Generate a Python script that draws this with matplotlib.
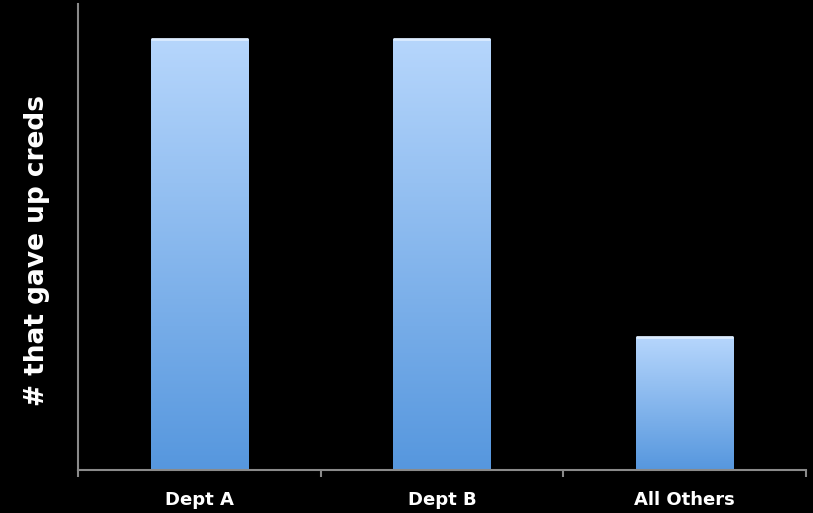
import numpy as np
import matplotlib
matplotlib.use("Agg")
import matplotlib.pyplot as plt
from matplotlib.colors import LinearSegmentedColormap

categories = ["Dept A", "Dept B", "All Others"]
values = [13, 13, 4]

fig = plt.figure(figsize=(8.13, 5.13), dpi=100, facecolor="black")
ax = fig.add_axes([0.096, 0.084, 0.895, 0.908], facecolor="black")

x = np.arange(len(categories))
bars = ax.bar(x, values, width=0.4, color="none", edgecolor="none")

grad = LinearSegmentedColormap.from_list("bluegrad", ["#5697de", "#b6d6fc"])
g = np.linspace(0, 1, 256).reshape(-1, 1)
for b in bars:
    x0, y0 = b.get_x(), b.get_y()
    w, h = b.get_width(), b.get_height()
    im = ax.imshow(g, cmap=grad, origin="lower", aspect="auto",
                   extent=[x0, x0 + w, y0, y0 + h], zorder=2)
    im.set_clip_path(b)
    # light rim along the top edge
    ax.plot([x0, x0 + w], [y0 + h, y0 + h], color="#dcecff", lw=2, zorder=3,
            solid_capstyle="butt")

ax.set_xlim(-0.5, len(categories) - 0.5)
ax.set_ylim(0, 14.05)

for s in ["top", "right"]:
    ax.spines[s].set_visible(False)
for s in ["left", "bottom"]:
    ax.spines[s].set_color("#8a8a8a")
    ax.spines[s].set_linewidth(1.5)

ax.set_yticks([])
ax.set_xticks(x)
ax.set_xticks(np.arange(len(categories) + 1) - 0.5, minor=True)
ax.tick_params(axis="x", which="major", length=0, pad=15, colors="white",
               labelsize=13)
ax.tick_params(axis="x", which="minor", length=5, width=1.5, color="#8a8a8a")
ax.set_xticklabels(categories, fontweight="bold", color="white")

ax.set_ylabel("# that gave up creds", fontsize=19, fontweight="bold",
              color="white")
ax.yaxis.set_label_coords(-0.038, 0.47)

fig.savefig("out.png", dpi=100, facecolor="black")
